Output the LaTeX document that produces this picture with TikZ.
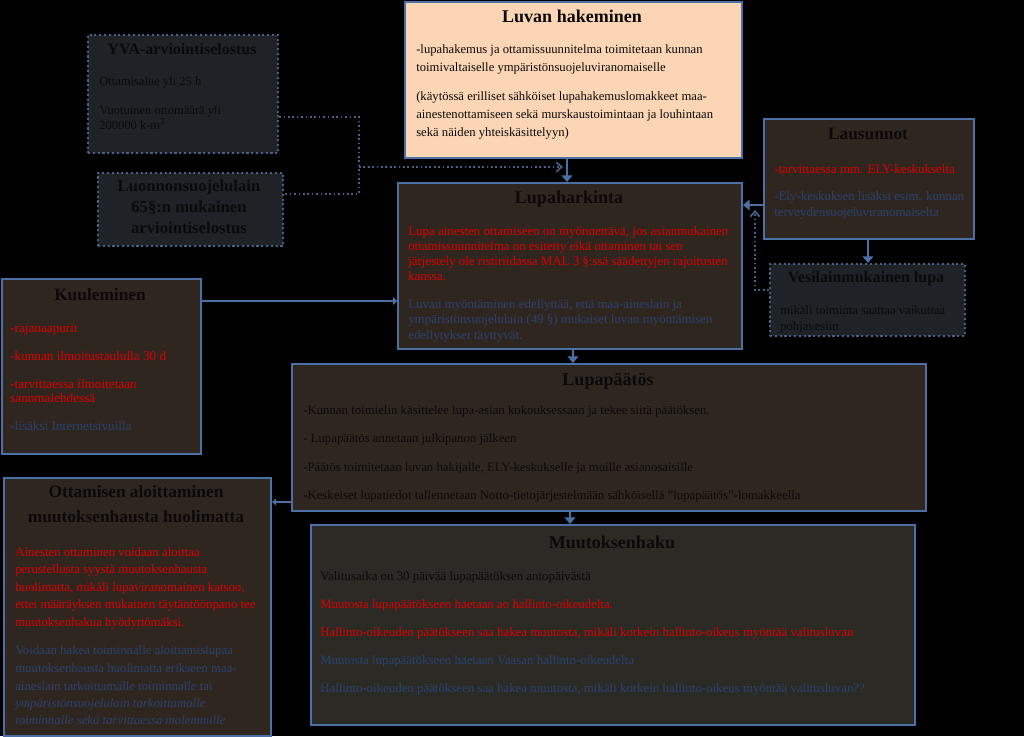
\documentclass[tikz,border=0pt]{standalone}
\usepackage{fontspec}
\setmainfont{Liberation Serif}[BoldFont={Liberation Serif Bold},ItalicFont={Liberation Serif Italic}]
\usetikzlibrary{arrows.meta}
\definecolor{brownfill}{RGB}{48,38,32}
\definecolor{grayfill}{RGB}{31,35,40}
\definecolor{muutfill}{RGB}{44,42,37}
\definecolor{peach}{RGB}{252,213,181}
\definecolor{bordblue}{RGB}{75,112,165}
\definecolor{dotblue}{RGB}{72,98,135}
\definecolor{redtxt}{RGB}{222,0,0}
\definecolor{bluetxt}{RGB}{40,66,112}
\definecolor{darktxt}{RGB}{10,10,10}
\begin{document}
\begin{tikzpicture}[x=0.75pt,y=-0.75pt,
  box/.style={draw=bordblue, line width=1.5pt, fill=brownfill, inner sep=0pt, anchor=north west},
  dotbox/.style={draw=dotblue, line width=1.6pt, dotted, fill=grayfill, inner sep=0pt, anchor=north west},
  ttl/.style={anchor=base, inner sep=0pt, text=darktxt, font=\bfseries\fontsize{13.5}{16}\selectfont, align=center},
  txt/.style={anchor=base west, inner sep=0pt, text=darktxt, font=\fontsize{9.5}{11}\selectfont},
  red/.style={text=redtxt},
  blu/.style={text=bluetxt},
  conn/.style={draw=bordblue, line width=2.2pt, -{Triangle[width=8pt,length=5pt]}},
  dotconn/.style={draw=dotblue, line width=1.3pt, dotted}
]
\fill[black] (0,0) rectangle (1024,736);

% boxes
\node[dotbox, minimum width=142.5pt, minimum height=88.5pt] (yva) at (87,34) {};
\node[dotbox, minimum width=138.75pt, minimum height=54.75pt] (lsl) at (97,172) {};
\node[box, fill=peach, minimum width=252.75pt, minimum height=117pt] (luvan) at (404,1) {};
\node[box, minimum width=258pt, minimum height=124.5pt] (harkinta) at (397,182) {};
\node[box, minimum width=157.5pt, minimum height=90pt] (lausunnot) at (763,118) {};
\node[dotbox, minimum width=146.25pt, minimum height=54pt] (vesi) at (769,263) {};
\node[box, minimum width=149.25pt, minimum height=131.25pt] (kuul) at (1,278) {};
\node[box, minimum width=475.5pt, minimum height=110.25pt] (paatos) at (291,363) {};
\node[box, minimum width=200.25pt, minimum height=193.5pt] (ottam) at (3,477) {};
\node[box, fill=muutfill, minimum width=453pt, minimum height=150pt] (muutos) at (310,524) {};

% connectors
\draw[dotconn] (yva.east |- 0,117) -- (359,117) -- (359,194) -- (lsl.east |- 0,194);
\coordinate (j1) at (359,167);
\coordinate (j2) at (563,167);
\draw[dotconn, -{Straight Barb[length=4pt,width=7pt]}] (j1) -- (j2);
\draw[conn] (luvan.south -| 567,0) -- (harkinta.north -| 567,0);
\draw[conn] (lausunnot.west |- 0,205) -- (harkinta.east |- 0,205);
\draw[conn] (lausunnot.south -| 868,0) -- (vesi.north -| 868,0);
\coordinate (j3) at (755,290);
\coordinate (j4) at (755,210);
\draw[dotconn, -{Straight Barb[length=4pt,width=7pt]}] (vesi.west |- 0,290) -- (j3) -- (j4);
\draw[conn, -{Triangle[width=6pt,length=3pt]}] (kuul.east |- 0,301) -- (harkinta.west |- 0,301);
\draw[conn] (harkinta.south -| 573,0) -- (paatos.north -| 573,0);
\draw[conn] (paatos.south -| 570,0) -- (muutos.north -| 570,0);
\draw[conn, -{Triangle[width=5pt,length=3pt]}] (paatos.west |- 0,502) -- (ottam.east |- 0,502);

% YVA
\node[ttl, font=\bfseries\fontsize{12}{14}\selectfont] (t1) at (182,55) {YVA-arviointiselostus};
\node[txt, font=\fontsize{9.4}{11}\selectfont] (y1) at (99,86) {Ottamisalue yli 25 h};
\node[txt, font=\fontsize{9.4}{11}\selectfont] (y2) at (99,115) {Vuotuinen ottomäärä yli};
\node[txt, font=\fontsize{9.4}{11}\selectfont] (y3) at (99,130) {200000 k-m\textsuperscript{3}};

% LSL
\node[ttl, font=\bfseries\fontsize{12.5}{15.75}\selectfont] (t2) at (189,192) {Luonnonsuojelulain};
\node[ttl, font=\bfseries\fontsize{12.5}{15.75}\selectfont] (t2b) at (189,213) {65§:n mukainen};
\node[ttl, font=\bfseries\fontsize{12.5}{15.75}\selectfont] (t2c) at (189,234) {arviointiselostus};

% Luvan hakeminen
\node[ttl] (t3) at (572,23) {Luvan hakeminen};
\node[txt] (l1) at (416,54) {-lupahakemus ja ottamissuunnitelma toimitetaan kunnan};
\node[txt] (l2) at (416,72) {toimivaltaiselle ympäristönsuojeluviranomaiselle};
\node[txt] (l3) at (416,101) {(käytössä erilliset sähköiset lupahakemuslomakkeet maa-};
\node[txt] (l4) at (416,119) {ainestenottamiseen sekä murskaustoimintaan ja louhintaan};
\node[txt] (l5) at (416,137) {sekä näiden yhteiskäsittelyyn)};

% Lupaharkinta
\node[ttl] (t4) at (569,204) {Lupaharkinta};
\node[txt, red, font=\fontsize{9.7}{11}\selectfont] (h1) at (408,236) {Lupa ainesten ottamiseen on myönnettävä, jos asianmukainen};
\node[txt, red, font=\fontsize{9.7}{11}\selectfont] (h2) at (408,251) {ottamissuunnitelma on esitetty eikä ottaminen tai sen};
\node[txt, red, font=\fontsize{9.7}{11}\selectfont] (h3) at (408,266) {järjestely ole ristiriidassa MAL 3 §:ssä säädettyjen rajoitusten};
\node[txt, red, font=\fontsize{9.7}{11}\selectfont] (h4) at (408,281) {kanssa.};
\node[txt, blu, font=\fontsize{9.7}{11}\selectfont] (h5) at (408,309) {Luvan myöntäminen edellyttää, että maa-aineslain  ja};
\node[txt, blu, font=\fontsize{9.7}{11}\selectfont] (h6) at (408,324) {ympäristönsuojelulain (49 §) mukaiset luvan myöntämisen};
\node[txt, blu, font=\fontsize{9.7}{11}\selectfont] (h7) at (408,340) {edellytykset täyttyvät.};

% Lausunnot
\node[ttl, font=\bfseries\fontsize{13}{15}\selectfont] (t5) at (868,140) {Lausunnot};
\node[txt, red, font=\fontsize{9.7}{11}\selectfont] (s1) at (774,174) {-tarvittaessa mm. ELY-keskukselta};
\node[txt, blu, font=\fontsize{9.7}{11}\selectfont] (s2) at (774,201) {-Ely-keskuksen lisäksi esim. kunnan};
\node[txt, blu, font=\fontsize{9.7}{11}\selectfont] (s3) at (774,217) {terveydensuojeluviranomaiselta};

% Vesi
\node[ttl, font=\bfseries\fontsize{12}{14}\selectfont] (t6) at (866,283) {Vesilainmukainen lupa};
\node[txt] (v1) at (780,315) {mikäli toiminta saattaa vaikuttaa};
\node[txt] (v2) at (780,331) {pohjavesiin};

% Kuuleminen
\node[ttl, font=\bfseries\fontsize{13}{15}\selectfont] (t7) at (100,301) {Kuuleminen};
\node[txt, red, font=\fontsize{9.9}{11}\selectfont] (k1) at (10,333) {-rajanaapurit};
\node[txt, red, font=\fontsize{9.9}{11}\selectfont] (k2) at (10,361) {-kunnan ilmoitustaululla 30 d};
\node[txt, red, font=\fontsize{9.9}{11}\selectfont] (k3) at (10,389) {-tarvittaessa ilmoitetaan};
\node[txt, red, font=\fontsize{9.9}{11}\selectfont] (k4) at (10,403) {sanomalehdessä};
\node[txt, blu, font=\fontsize{9.9}{11}\selectfont] (k5) at (10,431) {-lisäksi Internetsivuilla};

% Lupapäätös
\node[ttl] (t8) at (608,386) {Lupapäätös};
\node[txt, font=\fontsize{9.6}{11}\selectfont] (p1) at (303,415) {-Kunnan toimielin käsittelee lupa-asian kokouksessaan ja tekee siitä päätöksen.};
\node[txt, font=\fontsize{9.6}{11}\selectfont] (p2) at (303,443) {- Lupapäätös annetaan julkipanon jälkeen};
\node[txt, font=\fontsize{9.6}{11}\selectfont] (p3) at (303,471) {-Päätös toimitetaan luvan hakijalle, ELY-keskukselle  ja muille asianosaisille};
\node[txt, font=\fontsize{9.6}{11}\selectfont] (p4) at (303,499) {-Keskeiset lupatiedot tallennetaan Notto-tietojärjestelmään sähköisellä "lupapäätös"-lomakkeella};

% Ottamisen aloittaminen
\node[ttl, font=\bfseries\fontsize{13}{15}\selectfont] (t9) at (136,498) {Ottamisen aloittaminen};
\node[ttl, font=\bfseries\fontsize{13}{15}\selectfont] (t9b) at (136,522) {muutoksenhausta huolimatta};
\node[txt, red, font=\fontsize{9.6}{11}\selectfont] (o1) at (15,556) {Ainesten ottaminen voidaan aloittaa};
\node[txt, red, font=\fontsize{9.6}{11}\selectfont] (o2) at (15,573) {perustellusta syystä muutoksenhausta};
\node[txt, red, font=\fontsize{9.6}{11}\selectfont] (o3) at (15,591) {huolimatta, mikäli lupaviranomainen katsoo,};
\node[txt, red, font=\fontsize{9.6}{11}\selectfont] (o4) at (15,608) {ettei määräyksen mukainen täytäntöönpano tee};
\node[txt, red, font=\fontsize{9.6}{11}\selectfont] (o5) at (15,626) {muutoksenhakua hyödyttömäksi.};
\node[txt, blu, font=\fontsize{9.6}{11}\selectfont] (o6) at (15,654) {Voidaan hakea toiminnalle aloittamislupaa};
\node[txt, blu, font=\fontsize{9.6}{11}\selectfont] (o7) at (15,672) {muutoksenhausta huolimatta erikseen maa-};
\node[txt, blu, font=\fontsize{9.6}{11}\selectfont] (o8) at (15,690) {aineslain tarkoittamalle toiminnalle tai};
\node[txt, blu, font=\itshape\fontsize{9.6}{11}\selectfont] (o9) at (15,707) {ympäristönsuojelulain tarkoittamalle};
\node[txt, blu, font=\itshape\fontsize{9.6}{11}\selectfont] (o10) at (15,724) {toiminnalle sekä tarvittaessa molemmille};

% Muutoksenhaku
\node[ttl] (t10) at (612,548) {Muutoksenhaku};
\node[txt, font=\fontsize{9.65}{11}\selectfont] (m1) at (320,580) {Valitusaika on 30 päivää lupapäätöksen antopäivästä};
\node[txt, red, font=\fontsize{9.65}{11}\selectfont] (m2) at (320,608) {Muutosta lupapäätökseen haetaan ao hallinto-oikeudelta.};
\node[txt, red, font=\fontsize{9.65}{11}\selectfont] (m3) at (320,636) {Hallinto-oikeuden päätökseen saa hakea muutosta, mikäli korkein hallinto-oikeus myöntää valitusluvan};
\node[txt, blu, font=\fontsize{9.65}{11}\selectfont] (m4) at (320,664) {Muutosta lupapäätökseen haetaan Vaasan hallinto-oikeudelta};
\node[txt, blu, font=\fontsize{9.65}{11}\selectfont] (m5) at (320,692) {Hallinto-oikeuden päätökseen saa hakea muutosta, mikäli korkein hallinto-oikeus myöntää valitusluvan??};
\end{tikzpicture}
\end{document}
